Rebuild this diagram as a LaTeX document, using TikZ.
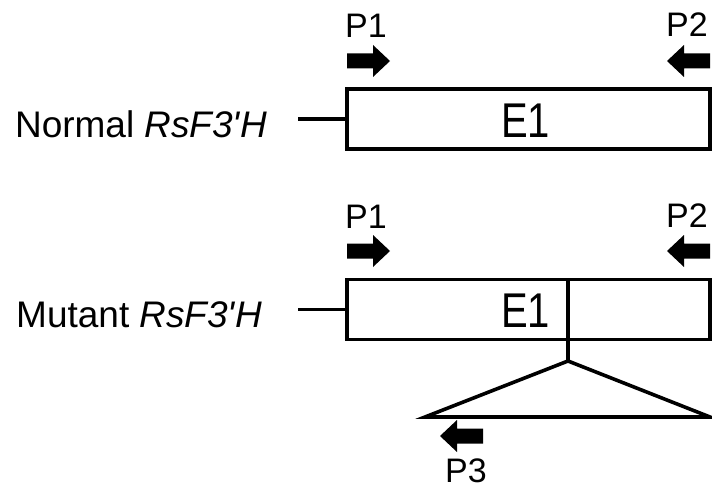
\documentclass[tikz,border=0pt]{standalone}
\usepackage{fontspec}
\setmainfont{Liberation Sans}
\begin{document}
\begin{tikzpicture}[x=1pt,y=-1pt,
  genebox/.style={draw, line width=3.6pt, inner sep=0pt, outer sep=0pt, minimum width=363pt, minimum height=60pt},
  conn/.style={line width=3.6pt},
  lbl/.style={font=\fontsize{37}{40}\selectfont, inner sep=0pt, anchor=base east},
  exon/.style={font=\fontsize{40}{44}\selectfont, inner sep=0pt, anchor=base west},
  ptxt/.style={font=\fontsize{34}{38}\selectfont, inner sep=0pt}]
\useasboundingbox (0,0) rectangle (712,495);
\newcommand{\rarrowat}[2]{\fill (#1,#2-7.5) -- ++(26,0) -- ++(0,-8.5) -- (#1+43,#2) -- (#1+26,#2+16) -- ++(0,-8.5) -- (#1,#2+7.5) -- cycle;}
\newcommand{\larrowat}[2]{\fill (#1,#2-7.5) -- ++(-26,0) -- ++(0,-8.5) -- (#1-43,#2) -- (#1-26,#2+16) -- ++(0,-8.5) -- (#1,#2+7.5) -- cycle;}
% normal
\node[genebox] (b1) at (528.5,119) {};
\node[exon] (e1) at (501,137) {\scalebox{1}[1.22]{E1}};
\node[lbl] (l1) at (267,137) {Normal \textit{RsF3\textquotesingle H}};
\coordinate (s1) at (298,119);
\draw[conn] (s1) -- (b1.west);
\node[ptxt, anchor=base west] (p1a) at (345,38) {P1};
\node[ptxt, anchor=base east] (p2a) at (708,37) {P2};
\rarrowat{347}{61}
\larrowat{710}{61}
% mutant
\node[genebox] (b2) at (528.5,309.5) {};
\node[exon] (e2) at (501,327) {\scalebox{1}[1.22]{E1}};
\coordinate (dt) at (568,279.5);
\coordinate (db) at (568,339.5);
\coordinate (apex) at (568,361);
\coordinate (tl) at (425,417);
\coordinate (tr) at (710,417);
\draw[conn] (dt) -- (db);
\draw[conn] (db) -- (apex);
\draw[conn, line join=miter] (apex) -- (tl) -- (tr) -- cycle;
\node[lbl] (l2) at (262,327) {Mutant \textit{RsF3\textquotesingle H}};
\coordinate (s2) at (298,309.5);
\draw[conn] (s2) -- (b2.west);
\node[ptxt, anchor=base west] (p1b) at (345,228) {P1};
\node[ptxt, anchor=base east] (p2b) at (708,227) {P2};
\rarrowat{347}{251}
\larrowat{710}{251}
\larrowat{483}{436}
\node[ptxt, anchor=base west] (p3) at (445,482) {P3};
\end{tikzpicture}
\end{document}
